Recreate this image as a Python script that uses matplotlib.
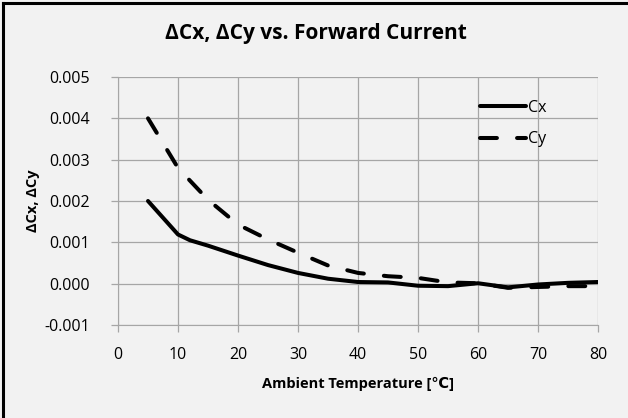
import matplotlib
matplotlib.use('Agg')
import matplotlib.pyplot as plt
from matplotlib.lines import Line2D

# data
temp = [5, 10, 12, 15, 20, 25, 30, 35, 40, 45, 50, 55, 60, 65, 70, 75, 80]
cx = [0.0020, 0.00119, 0.00105, 0.00092, 0.00068, 0.00045, 0.00026, 0.00012, 0.00004,
      0.00003, -0.00005, -0.00006, 0.00001, -0.00009, -0.00002, 0.00002, 0.00004]
temp_y = [5, 10, 15, 20, 25, 30, 35, 40, 45, 50, 55, 60, 65, 70, 75, 80]
cy = [0.0040, 0.0028, 0.00203, 0.00143, 0.00107, 0.00075, 0.00044, 0.00026, 0.00018,
      0.00014, 0.00003, 0.00001, -0.00010, -0.00008, -0.00006, -0.00006]
xticks = [0, 10, 20, 30, 40, 50, 60, 70, 80]
yticks = [-0.001, 0.0, 0.001, 0.002, 0.003, 0.004, 0.005]

plt.rcParams['font.family'] = ['Open Sans', 'DejaVu Sans']
bg = '#f2f2f2'
W, H = 628, 418

fig = plt.figure(figsize=(W / 100, H / 100), dpi=100, facecolor=bg)
ax = fig.add_axes([118 / W, 1 - 325 / H, (598 - 118) / W, (325 - 77) / H])
ax.set_facecolor(bg)

ax.plot(temp, cx, color='black', lw=2.9, solid_capstyle='round', label='Cx')
ax.plot(temp_y, cy, color='black', lw=2.9, dashes=(4.2, 5.0),
        dash_capstyle='round', label='Cy')

ax.set_xlim(0, 80)
ax.set_ylim(-0.001, 0.005)
ax.set_xticks(xticks)
ax.set_yticks(yticks)
ax.set_xticklabels([str(t) for t in xticks])
ax.set_yticklabels(['%.3f' % v for v in yticks])
ax.grid(True, color='#a6a6a6', lw=0.9)
ax.set_axisbelow(True)
for s in ['top', 'right']:
    ax.spines[s].set_visible(False)
for s in ['left', 'bottom']:
    ax.spines[s].set_color('#a6a6a6')
ax.tick_params(axis='both', colors='#a6a6a6', labelcolor='black', labelsize=11.5,
               length=5, width=0.9, direction='out')
ax.tick_params(axis='x', pad=11)
ax.tick_params(axis='y', pad=15)

ax.set_xlabel('Ambient Temperature [℃]', fontsize=10.5, fontweight='bold', labelpad=10)
ax.set_ylabel('ΔCx, ΔCy', fontsize=10.5, fontweight='bold', labelpad=3)
fig.text(316 / W, 1 - 33 / H, 'ΔCx, ΔCy vs. Forward Current', ha='center', va='center',
         fontsize=15, fontweight='bold')

ax.legend(loc='upper left', bbox_to_anchor=(0.74, 0.935), frameon=False, fontsize=11.5,
          handlelength=2.9, handletextpad=0.1, labelspacing=1.0, borderaxespad=0)

# frame on left and top edges
fig.add_artist(Line2D([3 / W, 3 / W], [0, 1 - 3 / H], color='black', lw=2.2,
                      transform=fig.transFigure))
fig.add_artist(Line2D([3 / W, 1], [1 - 3 / H, 1 - 3 / H], color='black', lw=2.2,
                      transform=fig.transFigure))

fig.savefig('out.png', dpi=100, facecolor=bg)
